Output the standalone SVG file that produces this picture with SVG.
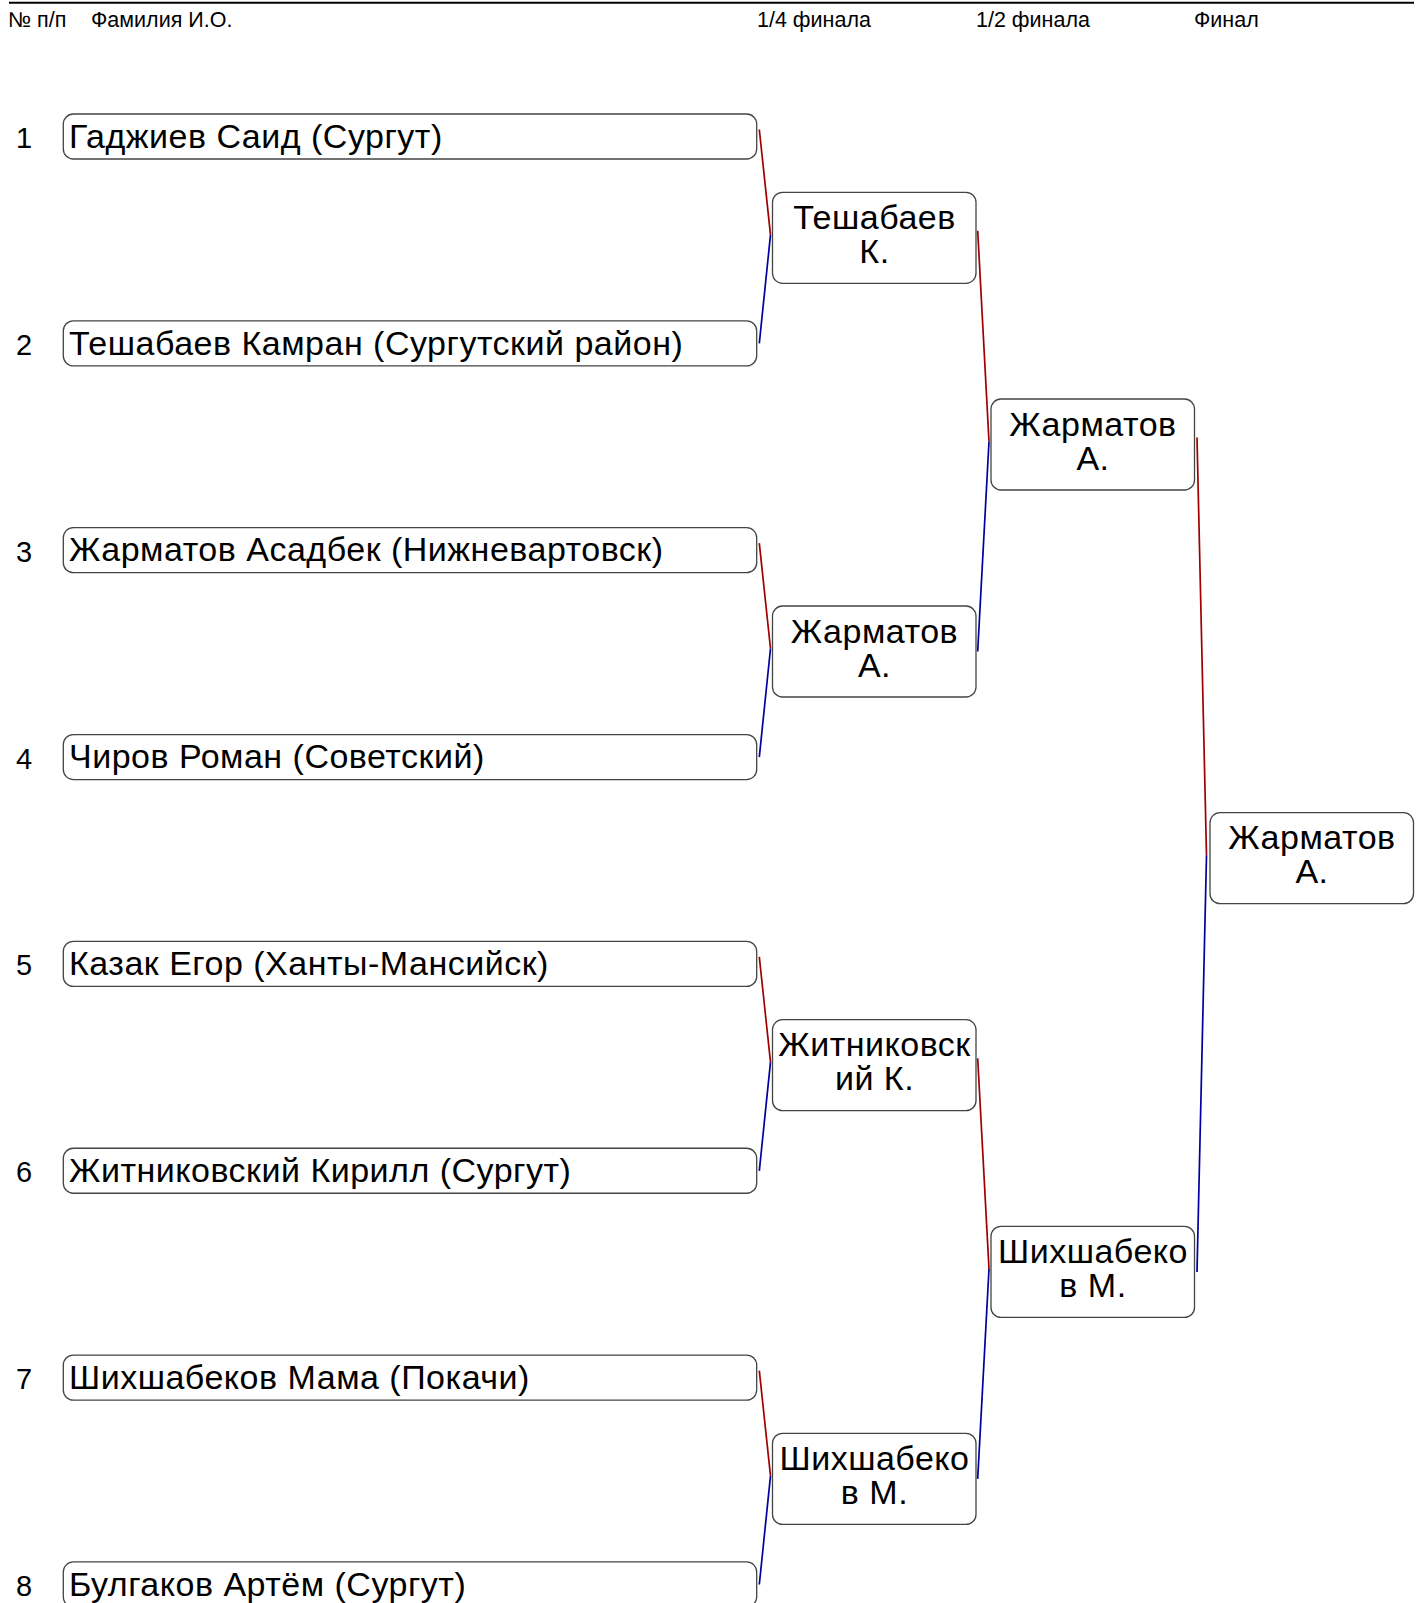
<svg xmlns="http://www.w3.org/2000/svg" width="1422" height="1603" viewBox="0 0 1422 1603">
<style>
  .hdr { font-family: "Liberation Sans", Arial, sans-serif; font-size: 21.5px; fill: #000; }
  .num { font-family: "Liberation Sans", Arial, sans-serif; font-size: 29px; fill: #000; }
  .name { font-family: "Liberation Sans", Arial, sans-serif; font-size: 34px; letter-spacing: 0.5px; fill: #000; }
  .win { font-family: "Liberation Sans", Arial, sans-serif; font-size: 34px; letter-spacing: 0.5px; fill: #000; text-anchor: middle; }
  .box { fill: #fff; stroke: #444; stroke-width: 1.3; }
  .r { stroke: #a00000; stroke-width: 1.7; fill: none; }
  .b { stroke: #0000a0; stroke-width: 1.7; fill: none; }
</style>
<rect x="0" y="0" width="1422" height="1603" fill="#fff"/>
<g id="header">
  <line x1="9" y1="2.7" x2="1414" y2="2.7" stroke="#000" stroke-width="2"/>
  <text class="hdr" x="8" y="27">№ п/п</text>
  <text class="hdr" x="91" y="27">Фамилия И.О.</text>
  <text class="hdr" x="757" y="27">1/4 финала</text>
  <text class="hdr" x="976" y="27">1/2 финала</text>
  <text class="hdr" x="1194" y="27">Финал</text>
</g>
<g id="connectors">
  <polyline class="r" points="759.3,129.5 770.5,234.8"/>
  <polyline class="b" points="770.5,234.8 759.3,343.4"/>
  <polyline class="r" points="759.3,543.2 770.5,648.5"/>
  <polyline class="b" points="770.5,648.5 759.3,757.1"/>
  <polyline class="r" points="759.3,956.9 770.5,1062.2"/>
  <polyline class="b" points="770.5,1062.2 759.3,1170.8"/>
  <polyline class="r" points="759.3,1370.6 770.5,1475.9"/>
  <polyline class="b" points="770.5,1475.9 759.3,1584.5"/>
  <polyline class="r" points="977.7,230.8 989,441.5"/>
  <polyline class="b" points="989,441.5 977.7,651.5"/>
  <polyline class="r" points="977.7,1058.2 989,1268.9"/>
  <polyline class="b" points="989,1268.9 977.7,1478.9"/>
  <polyline class="r" points="1197,437.5 1206.5,855.2"/>
  <polyline class="b" points="1206.5,855.2 1197,1271.9"/>
</g>
<g id="p1"><rect class="box" x="63.3" y="114" width="693.4" height="45" rx="10"/><text class="num" x="16" y="148">1</text><text class="name" x="69" y="147.7">Гаджиев Саид (Сургут)</text></g>
<g id="p2"><rect class="box" x="63.3" y="320.85" width="693.4" height="45" rx="10"/><text class="num" x="16" y="354.85">2</text><text class="name" x="69" y="354.55">Тешабаев Камран (Сургутский район)</text></g>
<g id="p3"><rect class="box" x="63.3" y="527.7" width="693.4" height="45" rx="10"/><text class="num" x="16" y="561.7">3</text><text class="name" x="69" y="561.4">Жарматов Асадбек (Нижневартовск)</text></g>
<g id="p4"><rect class="box" x="63.3" y="734.55" width="693.4" height="45" rx="10"/><text class="num" x="16" y="768.55">4</text><text class="name" x="69" y="768.25">Чиров Роман (Советский)</text></g>
<g id="p5"><rect class="box" x="63.3" y="941.4" width="693.4" height="45" rx="10"/><text class="num" x="16" y="975.4">5</text><text class="name" x="69" y="975.1">Казак Егор (Ханты-Мансийск)</text></g>
<g id="p6"><rect class="box" x="63.3" y="1148.25" width="693.4" height="45" rx="10"/><text class="num" x="16" y="1182.25">6</text><text class="name" x="69" y="1181.95">Житниковский Кирилл (Сургут)</text></g>
<g id="p7"><rect class="box" x="63.3" y="1355.1" width="693.4" height="45" rx="10"/><text class="num" x="16" y="1389.1">7</text><text class="name" x="69" y="1388.8">Шихшабеков Мама (Покачи)</text></g>
<g id="p8"><rect class="box" x="63.3" y="1561.95" width="693.4" height="45" rx="10"/><text class="num" x="16" y="1595.95">8</text><text class="name" x="69" y="1595.65">Булгаков Артём (Сургут)</text></g>
<g id="qf1"><rect class="box" x="772.5" y="192.3" width="203.5" height="91" rx="10"/><text class="win" x="874.5" y="228.8">Тешабаев<tspan x="874.5" dy="34">К.</tspan></text></g>
<g id="qf2"><rect class="box" x="772.5" y="606" width="203.5" height="91" rx="10"/><text class="win" x="874.5" y="642.5">Жарматов<tspan x="874.5" dy="34">А.</tspan></text></g>
<g id="qf3"><rect class="box" x="772.5" y="1019.7" width="203.5" height="91" rx="10"/><text class="win" x="874.5" y="1056.2">Житниковск<tspan x="874.5" dy="34">ий К.</tspan></text></g>
<g id="qf4"><rect class="box" x="772.5" y="1433.4" width="203.5" height="91" rx="10"/><text class="win" x="874.5" y="1469.9">Шихшабеко<tspan x="874.5" dy="34">в М.</tspan></text></g>
<g id="sf1"><rect class="box" x="991" y="399" width="203.5" height="91" rx="10"/><text class="win" x="1093" y="435.5">Жарматов<tspan x="1093" dy="34">А.</tspan></text></g>
<g id="sf2"><rect class="box" x="991" y="1226.4" width="203.5" height="91" rx="10"/><text class="win" x="1093" y="1262.9">Шихшабеко<tspan x="1093" dy="34">в М.</tspan></text></g>
<g id="final"><rect class="box" x="1210" y="812.7" width="203.5" height="91" rx="10"/><text class="win" x="1312" y="849.2">Жарматов<tspan x="1312" dy="34">А.</tspan></text></g>
</svg>
